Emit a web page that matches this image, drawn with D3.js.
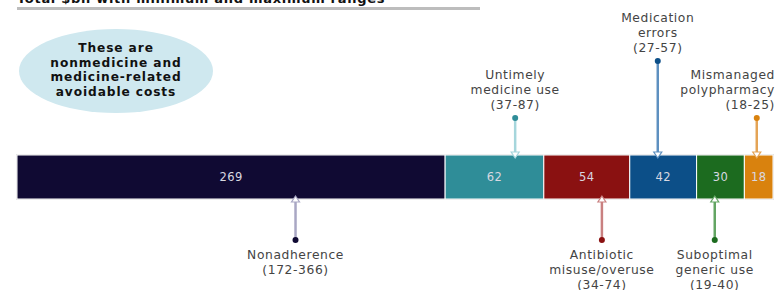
<!DOCTYPE html>
<html><head><meta charset="utf-8">
<script src="https://cdn.jsdelivr.net/npm/d3@7/dist/d3.min.js"></script>
<style>
html,body{margin:0;padding:0;background:#fff;}
svg{display:block;font-family:"DejaVu Sans",Verdana,sans-serif;}
</style></head>
<body><svg id="c" width="777" height="290"></svg>
<script>
// ---- data ----
const title = "Total $bn with minimum and maximum ranges";
const noteLines = ["These are", "nonmedicine and", "medicine-related", "avoidable costs"];
const categories = ["Nonadherence", "Untimely medicine use", "Antibiotic misuse/overuse", "Medication errors", "Suboptimal generic use", "Mismanaged polypharmacy"];
const labelLines = [["Nonadherence"], ["Untimely", "medicine use"], ["Antibiotic", "misuse/overuse"], ["Medication", "errors"], ["Suboptimal", "generic use"], ["Mismanaged", "polypharmacy"]];
const values = [269, 62, 54, 42, 30, 18];
const minVals = [172, 37, 34, 27, 19, 18];
const maxVals = [366, 87, 74, 57, 40, 25];

// ---- style / layout ----
const colors = ["#100a33", "#2f8d98", "#8a1111", "#0c4f88", "#1c6b1f", "#d9820e"];
const lineColors = ["#a9a7c4", "#a6d6dc", "#c98080", "#5e90c0", "#63a563", "#e4a456"];
const side = ["bottom", "top", "bottom", "top", "bottom", "top"];
const anchorOffset = [175, 44, 36.5, 17.6, 11.4, 7.8]; // position of callout within segment, in $bn
const dotY = [240, 118, 240, 61, 240, 118];

const svg = d3.select("#c");
const total = d3.sum(values);
const x = d3.scaleLinear().domain([0, total]).range([17, 773]);
const barTop = 155, barH = 44;

// title (cut off at top in reference)
svg.append("text").attr("x", 17).attr("y", 3)
  .attr("font-size", 13).attr("font-weight", "bold").attr("letter-spacing", 0.7).attr("fill", "#111")
  .text(title);
svg.append("rect").attr("x", 17).attr("y", 7).attr("width", 463).attr("height", 3).attr("fill", "#bdbdbd");

// note ellipse
svg.append("ellipse").attr("cx", 116).attr("cy", 71).attr("rx", 97).attr("ry", 42).attr("fill", "#cfe8ef");
svg.append("g").selectAll("text").data(noteLines).join("text")
  .attr("x", 116).attr("y", (d, i) => 52 + i * 14.7)
  .attr("text-anchor", "middle").attr("font-size", 12.2).attr("font-weight", "bold")
  .attr("letter-spacing", 0.9).attr("fill", "#111")
  .text(d => d);

// stacked segments
const starts = values.map((v, i) => d3.sum(values.slice(0, i)));
const data = values.map((v, i) => ({v, i, s: starts[i]}));

svg.append("rect").attr("x", x(0) - 1).attr("y", barTop - 1)
  .attr("width", x(total) - x(0) + 2).attr("height", barH + 2).attr("fill", "#dcdcdc");

svg.append("g").selectAll("rect").data(data).join("rect")
  .attr("x", d => x(d.s)).attr("y", barTop)
  .attr("width", d => x(d.s + d.v) - x(d.s)).attr("height", barH)
  .attr("fill", d => colors[d.i]).attr("stroke", "#fff").attr("stroke-width", 1);

svg.append("g").selectAll("text").data(data).join("text")
  .attr("x", d => (x(d.s) + x(d.s + d.v)) / 2).attr("y", barTop + barH / 2 + 4)
  .attr("text-anchor", "middle").attr("font-size", 11.5).attr("letter-spacing", 0.4).attr("fill", "#d8d8e0")
  .text(d => d.v);

// callouts
const g = svg.append("g");
data.forEach(d => {
  const cx = x(d.s + anchorOffset[d.i]);
  const top = side[d.i] === "top";
  const edge = top ? barTop : barTop + barH;
  const dy = dotY[d.i];
  g.append("line").attr("x1", cx).attr("x2", cx).attr("y1", edge).attr("y2", dy)
    .attr("stroke", lineColors[d.i]).attr("stroke-width", 2.5);
  g.append("circle").attr("cx", cx).attr("cy", dy).attr("r", 3).attr("fill", colors[d.i]);
  const tri = top
    ? [[cx - 4, edge - 3], [cx + 4, edge - 3], [cx, edge + 3]]
    : [[cx - 4, edge + 3], [cx + 4, edge + 3], [cx, edge - 3]];
  g.append("path").attr("d", "M" + tri.join("L") + "Z")
    .attr("fill", "#fff").attr("stroke", lineColors[d.i]).attr("stroke-width", 1.2);
  const lines = labelLines[d.i].concat([`(${minVals[d.i]}-${maxVals[d.i]})`]);
  const endAnchor = d.i === values.length - 1;
  const tx = endAnchor ? 775 : cx;
  const sp = 14.8;
  lines.forEach((t, k) => {
    const y = top ? dy - 9 - (lines.length - 1 - k) * sp : dy + 19 + k * sp;
    g.append("text").attr("x", tx).attr("y", y)
      .attr("text-anchor", endAnchor ? "end" : "middle")
      .attr("font-size", 12.3).attr("letter-spacing", 0.6).attr("fill", "#444").text(t);
  });
});
</script></body></html>
